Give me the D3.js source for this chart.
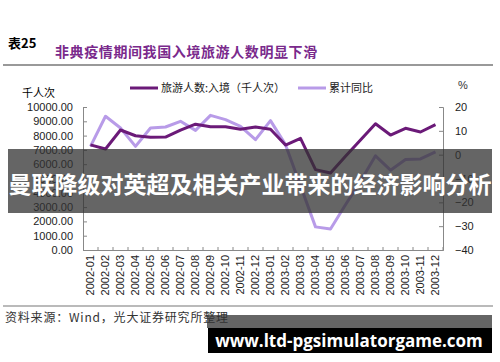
<!DOCTYPE html>
<html>
<head>
<meta charset="utf-8">
<script src="https://cdn.jsdelivr.net/npm/d3@7"></script>
<style>
  body { margin: 0; background: #fff; }
  svg { display: block; font-family: "Liberation Sans", Arial, sans-serif; }
</style>
</head>
<body>
<svg width="500" height="362"></svg>
<script>
// 月份
const months = ["2002-01","2002-02","2002-03","2002-04","2002-05","2002-06","2002-07","2002-08","2002-09","2002-10","2002-11","2002-12",
  "2003-01","2003-02","2003-03","2003-04","2003-05","2003-06","2003-07","2003-08","2003-09","2003-10","2003-11","2003-12"]
// 旅游人数:入境(千人次)
const arrivals = [7350,7060,8390,7990,7880,7900,8390,8800,8620,8620,8440,8600,
  8440,7340,7810,5620,5380,6550,7700,8830,8040,8510,8250,8770]
// 累计同比(%)
const yoy = [3.5,16.1,11.2,3.5,11.2,11.6,14.0,10.2,16.5,14.7,11.9,6.3,
  14.3,4.2,-13,-30.3,-31.2,-21,-11.2,-0.5,-6.5,-2,-1.8,1.2]
const leftTicks = [0,1000,2000,3000,4000,5000,6000,7000,8000,9000,10000]
const rightTicks = [-40,-30,-20,-10,0,10,20]

const svg = d3.select("svg")
const x = d3.scaleBand().domain(months).range([83, 443])
const yL = d3.scaleLinear().domain([0, 10000]).range([250, 107])
const yR = d3.scaleLinear().domain([-40, 20]).range([250, 107])
const bw = x.bandwidth()

// 标题
svg.append("text").attr("x", 8).attr("y", 48).attr("font-size", 13).attr("font-weight", "bold")
  .attr("font-family", "'Noto Sans CJK SC', sans-serif").text("表25")
svg.append("text").attr("x", 55).attr("y", 57).attr("font-size", 14).attr("font-weight", "bold")
  .attr("letter-spacing", 0.6).attr("fill", "#7a2a8c")
  .attr("font-family", "'Noto Sans CJK SC', sans-serif").text("非典疫情期间我国入境旅游人数明显下滑")
svg.append("line").attr("x1", 3).attr("x2", 493).attr("y1", 65).attr("y2", 65)
  .attr("stroke", "#777").attr("stroke-width", 1.5)

svg.append("text").attr("x", 22).attr("y", 97).attr("font-size", 11)
  .attr("font-family", "'Noto Sans CJK SC', sans-serif").text("千人次")
svg.append("text").attr("x", 458).attr("y", 89).attr("font-size", 11).attr("fill", "#333").text("%")

// 左轴
const gL = svg.append("g").attr("transform", "translate(83,0)")
  .call(d3.axisLeft(yL).tickValues(leftTicks).tickFormat(d3.format(".2f")).tickSize(-4).tickPadding(10))
// 右轴
const gR = svg.append("g").attr("transform", "translate(443,0)")
  .call(d3.axisRight(yR).tickValues(rightTicks).tickSize(-4).tickPadding(12))
// 下轴
const gB = svg.append("g").attr("transform", "translate(0,250)")
  .call(d3.axisBottom(x).tickSize(0))
gB.selectAll("text").attr("transform", "rotate(-90)").attr("text-anchor", "end")
  .attr("x", -5).attr("y", 0).attr("dy", "0.35em")
gB.selectAll(".tick-b").data(months).join("line")
  .attr("x1", d => x(d) + bw).attr("x2", d => x(d) + bw)
  .attr("y1", 0).attr("y2", -3).attr("stroke", "#888")

svg.selectAll(".domain").attr("stroke", "#888")
svg.selectAll(".tick line").attr("stroke", "#888")
svg.selectAll(".tick text").attr("font-size", 11).attr("fill", "#222")
  .attr("font-family", "'Liberation Sans', Arial, sans-serif")

// 折线
const lineL = d3.line().x((d, i) => x(months[i]) + bw / 2).y(d => yL(d))
const lineR = d3.line().x((d, i) => x(months[i]) + bw / 2).y(d => yR(d))
svg.append("path").datum(yoy).attr("d", lineR).attr("fill", "none")
  .attr("stroke", "#b89be8").attr("stroke-width", 3).attr("stroke-linejoin", "round")
svg.append("path").datum(arrivals).attr("d", lineL).attr("fill", "none")
  .attr("stroke", "#6b1a78").attr("stroke-width", 3).attr("stroke-linejoin", "round")

// 图例
const legend = [
  {x: 130, color: "#6b1a78", label: "旅游人数:入境（千人次）"},
  {x: 298, color: "#b89be8", label: "累计同比"}
]
legend.forEach(l => {
  svg.append("line").attr("x1", l.x).attr("x2", l.x + 28).attr("y1", 88).attr("y2", 88)
    .attr("stroke", l.color).attr("stroke-width", 3)
  svg.append("text").attr("x", l.x + 31).attr("y", 92).attr("font-size", 11).attr("fill", "#222")
    .attr("font-family", "'Noto Sans CJK SC', sans-serif").text(l.label)
})

// 底部
svg.append("line").attr("x1", 3).attr("x2", 493).attr("y1", 306).attr("y2", 306)
  .attr("stroke", "#777").attr("stroke-width", 1.2)
svg.append("text").attr("x", 5).attr("y", 322).attr("font-size", 12).attr("letter-spacing", 0.8)
  .attr("fill", "#333").attr("font-family", "'Noto Sans CJK SC', sans-serif")
  .text("资料来源：Wind，光大证券研究所整理")

// 覆盖层
svg.append("rect").attr("x", 8).attr("y", 149).attr("width", 484).attr("height", 64)
  .attr("fill", "rgb(50,50,50)").attr("fill-opacity", 0.75)
svg.append("text").attr("x", 250).attr("y", 193).attr("text-anchor", "middle")
  .attr("font-size", 23).attr("font-weight", "bold").attr("fill", "#fff")
  .attr("font-family", "'Noto Sans CJK SC', sans-serif").text("曼联降级对英超及相关产业带来的经济影响分析")
svg.append("rect").attr("x", 207).attr("y", 315).attr("width", 285).attr("height", 13)
  .attr("fill", "rgb(50,50,50)").attr("fill-opacity", 0.75)
svg.append("rect").attr("x", 208).attr("y", 328).attr("width", 284).attr("height", 25).attr("fill", "#000")
svg.append("text").attr("x", 349).attr("y", 347).attr("text-anchor", "middle")
  .attr("font-size", 17).attr("font-weight", "bold").attr("fill", "#fff")
  .attr("font-family", "'Open Sans', 'DejaVu Sans', sans-serif").text("www.ltd-pgsimulatorgame.com")
</script>
</body>
</html>
